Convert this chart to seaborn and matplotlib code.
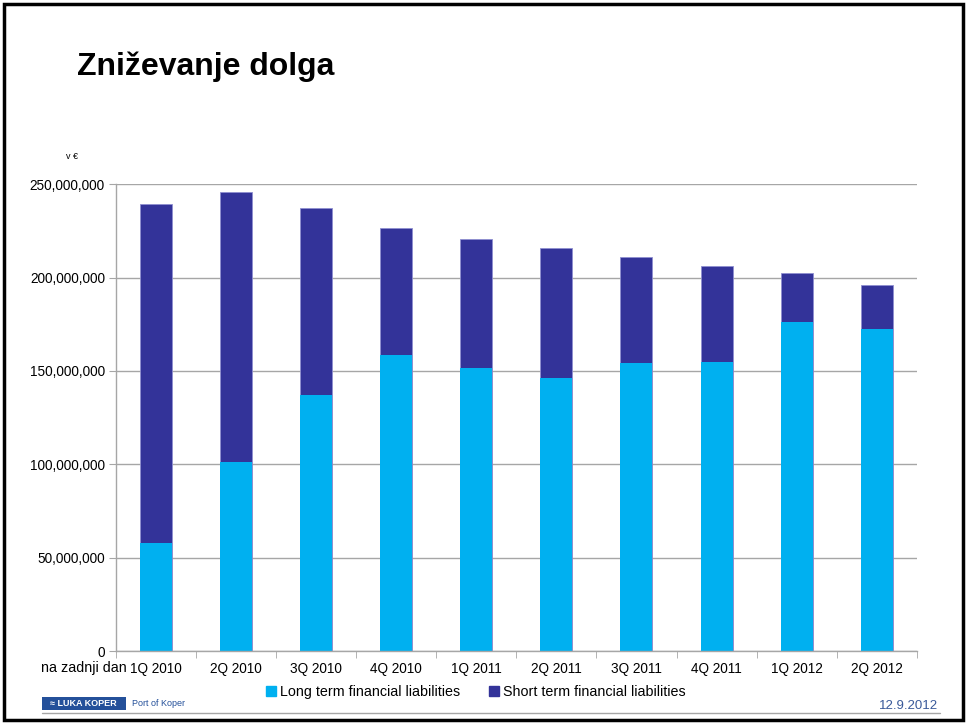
import numpy as np
import pandas as pd
import matplotlib
matplotlib.use("Agg")
import matplotlib.pyplot as plt
import seaborn as sns
from matplotlib.patches import Rectangle
from matplotlib.lines import Line2D
from matplotlib.ticker import FuncFormatter, FixedLocator

# Data (EUR)
quarters = ["1Q 2010", "2Q 2010", "3Q 2010", "4Q 2010", "1Q 2011",
            "2Q 2011", "3Q 2011", "4Q 2011", "1Q 2012", "2Q 2012"]
long_term = [57.8, 101.2, 137.0, 158.5, 151.5, 146.1, 154.2, 154.7, 176.1, 172.4]
total = [239.3, 245.7, 237.2, 226.4, 220.6, 215.7, 210.9, 206.1, 202.4, 195.9]
short_term = [t - l for t, l in zip(total, long_term)]

df = pd.DataFrame({
    "quarter": quarters,
    "long": np.array(long_term) * 1e6,
    "short": np.array(short_term) * 1e6,
})
df["total"] = df["long"] + df["short"]

sns.set_style("white")
plt.rcParams['font.family'] = ['Liberation Sans', 'DejaVu Sans']
plt.rcParams['text.color'] = 'black'
plt.rcParams['xtick.color'] = 'black'
plt.rcParams['ytick.color'] = 'black'

col_long = "#00B0F0"
col_short = "#333399"

fig = plt.figure(figsize=(9.67, 7.25), dpi=100)
ax = fig.add_axes([0.120, 0.102, 0.828, 0.644])

# stacked bars: total first (short colour), then long term on top
sns.barplot(data=df, x="quarter", y="total", color=col_short, width=0.4,
            saturation=1, ax=ax, edgecolor="#8f8fd0", linewidth=0.6)
sns.barplot(data=df, x="quarter", y="long", color=col_long, width=0.4,
            saturation=1, ax=ax, linewidth=0)

ax.set_xlim(-0.5, len(quarters) - 0.5)
ax.set_ylim(0, 250e6)
ax.set_yticks(np.arange(0, 250e6 + 1, 50e6))
ax.yaxis.set_major_formatter(FuncFormatter(lambda v, p: f"{v:,.0f}"))
ax.yaxis.grid(True, color="#a6a6a6", linewidth=1)
ax.set_axisbelow(True)
ax.set_xlabel("")
ax.set_ylabel("")

for s in ["top", "right"]:
    ax.spines[s].set_visible(False)
for s in ["left", "bottom"]:
    ax.spines[s].set_color("#a6a6a6")
    ax.spines[s].set_linewidth(1)

ax.tick_params(axis="y", which="major", length=5, color="#a6a6a6",
               labelcolor="black", labelsize=9.8, pad=3, left=True)
ax.tick_params(axis="x", which="major", length=0, labelcolor="black",
               labelsize=9.8, pad=8)
ax.xaxis.set_minor_locator(FixedLocator(np.arange(-0.5, len(quarters), 1)))
ax.tick_params(axis="x", which="minor", length=5, color="#a6a6a6", bottom=True)

# Legend below the axes
handles = [Rectangle((0, 0), 1, 1, color=col_long),
           Rectangle((0, 0), 1, 1, color=col_short)]
fig.legend(handles, ["Long term financial liabilities", "Short term financial liabilities"],
           loc="center", bbox_to_anchor=(0.492, 0.046), ncol=2, frameon=False,
           fontsize=10.3, handlelength=0.7, handleheight=0.7, handletextpad=0.3,
           columnspacing=2.0, labelcolor="black")

# Texts around the chart
fig.text(0.080, 0.908, "Zniževanje dolga", fontsize=23, fontweight="bold",
         color="black", ha="left", va="center")
fig.text(0.074, 0.784, "v €", fontsize=6.5, ha="center", va="center")
fig.text(0.131, 0.079, "na zadnji dan", fontsize=10.3, ha="right", va="center")
fig.text(0.970, 0.026, "12.9.2012", fontsize=9.5, color="#3a5a9a",
         ha="right", va="center")

# Logo area and footer line
fig.patches.append(Rectangle((0.043, 0.021), 0.087, 0.018, transform=fig.transFigure,
                             facecolor="#24509a", edgecolor="none"))
fig.text(0.086, 0.030, "≈ LUKA KOPER", fontsize=6.5, fontweight="bold", color="white",
         ha="center", va="center")
fig.text(0.136, 0.030, "Port of Koper", fontsize=6.5, color="#24509a",
         ha="left", va="center")
fig.lines.append(Line2D([0.043, 0.972], [0.017, 0.017], transform=fig.transFigure,
                        color="#a6a6a6", linewidth=1))

# Slide border
fig.patches.append(Rectangle((0.004, 0.007), 0.992, 0.987, transform=fig.transFigure,
                             facecolor="none", edgecolor="black", linewidth=2.5))

fig.savefig("out.png", dpi=100)
